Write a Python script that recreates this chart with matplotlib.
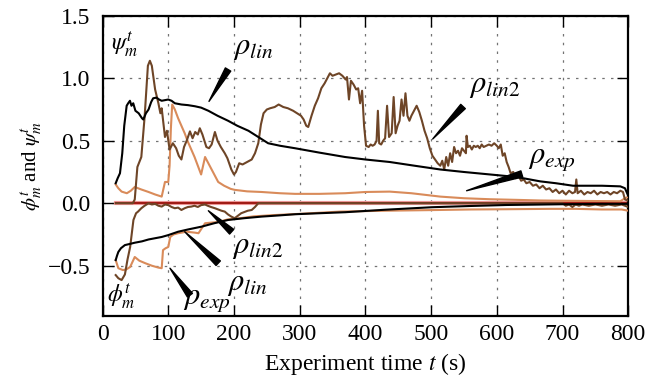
import numpy as np
import matplotlib.pyplot as plt

plt.rcParams['font.family'] = ['Liberation Serif', 'DejaVu Serif']
plt.rcParams['mathtext.fontset'] = 'stix'

# rho_lin (black)
lin_psi_t = [20, 23, 26.5, 30, 33, 36.7, 39, 41.7, 44, 46.7, 50, 55, 60, 62, 66, 70, 74, 77, 82, 86, 90, 95,
             100, 105, 110, 120, 130, 140.6, 150, 161, 175, 191, 205, 222, 237, 252, 270, 293, 330, 369, 400,
             437, 475, 514, 550, 590, 630, 666, 690, 716, 760, 788, 795, 800]
lin_psi = [0.16, 0.2, 0.24, 0.40, 0.62, 0.78, 0.80, 0.82, 0.78, 0.80, 0.74, 0.72, 0.68, 0.67, 0.72, 0.75, 0.81,
           0.84, 0.845, 0.83, 0.82, 0.825, 0.83, 0.82, 0.80, 0.79, 0.785, 0.776, 0.765, 0.74, 0.70, 0.66, 0.62,
           0.58, 0.53, 0.48, 0.46, 0.44, 0.405, 0.37, 0.35, 0.33, 0.30, 0.27, 0.25, 0.23, 0.21, 0.175, 0.16,
           0.14, 0.14, 0.135, 0.12, 0.06]
lin_phi_t = [20, 22, 24, 28, 34, 42, 49, 60, 70, 80, 90, 100, 115, 130, 151, 170, 191, 215, 242, 270, 293,
             330, 369, 430, 501, 560, 615, 700, 760, 800]
lin_phi = [-0.455, -0.42, -0.39, -0.36, -0.335, -0.325, -0.316, -0.305, -0.29, -0.28, -0.27, -0.255, -0.228,
           -0.21, -0.187, -0.16, -0.134, -0.12, -0.107, -0.097, -0.088, -0.08, -0.072, -0.052, -0.032, -0.022,
           -0.014, -0.008, -0.005, -0.005]

# rho_lin2 (dark brown)
lin2_psi_t = [20, 46, 49, 53, 59, 64, 69, 72, 75, 80, 85, 88, 90, 95, 98, 102, 107, 112, 116, 120, 124, 128,
              133, 137, 141, 145, 148, 152, 158, 162, 166, 171, 175, 180, 186, 190, 196, 200, 203, 208, 213,
              220, 227, 232, 237, 241, 245, 250, 255, 262, 268, 275, 282, 290, 296, 302, 306, 310, 313, 318,
              323, 328, 333, 338, 342, 346, 350, 355, 360, 365, 370, 372, 375, 378, 382, 386, 389, 392, 395,
              398, 401, 405, 408, 411, 414, 417, 419, 421, 424, 427, 430, 433, 436, 440, 443, 446, 449, 452,
              455, 458, 461, 464, 467, 470, 474, 478, 482, 486, 490, 494, 498, 502, 506, 510, 514, 517, 520,
              523, 526, 529, 532, 535, 538, 541, 544, 547, 550, 553, 554, 556, 559, 562, 565, 568, 571, 574,
              577, 580, 584, 588, 592, 596, 600, 603, 606, 609, 612, 615, 618, 621, 625, 629, 633, 637, 641,
              645, 650, 655, 660, 665, 670, 675, 680, 685, 690, 695, 700, 705, 710, 715, 719, 721, 723, 728,
              733, 738, 743, 748, 753, 758, 763, 768, 773, 778, 783, 788, 792, 795, 800]
lin2_psi = [0.0, 0.0, 0.03, 0.29, 0.37, 0.69, 1.10, 1.14, 1.10, 0.91, 0.80, 0.72, 0.76, 0.53, 0.58, 0.43,
            0.48, 0.44, 0.38, 0.35, 0.45, 0.50, 0.575, 0.52, 0.57, 0.55, 0.60, 0.55, 0.45, 0.44, 0.47, 0.57,
            0.50, 0.45, 0.40, 0.36, 0.27, 0.23, 0.25, 0.32, 0.31, 0.33, 0.35, 0.40, 0.48, 0.63, 0.72, 0.75,
            0.76, 0.77, 0.79, 0.77, 0.76, 0.74, 0.72, 0.70, 0.67, 0.62, 0.61, 0.70, 0.78, 0.84, 0.92, 0.96,
            1.00, 1.04, 1.02, 1.03, 1.04, 1.02, 0.99, 1.01, 0.83, 0.98, 0.95, 0.91, 0.92, 0.80, 0.90, 0.62,
            0.46, 0.45, 0.47, 0.46, 0.47, 0.50, 0.74, 0.48, 0.47, 0.50, 0.52, 0.78, 0.53, 0.56, 0.85, 0.56,
            0.62, 0.66, 0.83, 0.70, 0.88, 0.70, 0.66, 0.70, 0.74, 0.78, 0.73, 0.66, 0.58, 0.52, 0.44, 0.38,
            0.35, 0.32, 0.30, 0.34, 0.27, 0.37, 0.30, 0.40, 0.33, 0.45, 0.40, 0.42, 0.38, 0.44, 0.42, 0.40,
            0.54, 0.45, 0.46, 0.43, 0.46, 0.45, 0.46, 0.44, 0.47, 0.45, 0.46, 0.47, 0.46, 0.48, 0.46, 0.44,
            0.47, 0.38, 0.40, 0.33, 0.29, 0.24, 0.25, 0.20, 0.22, 0.18, 0.19, 0.16, 0.17, 0.14, 0.15, 0.12,
            0.14, 0.11, 0.12, 0.09, 0.11, 0.08, 0.10, 0.07, 0.10, 0.08, 0.09, 0.19, 0.08, 0.10, 0.07, 0.09,
            0.08, 0.10, 0.07, 0.09, 0.08, 0.09, 0.07, 0.09, 0.08, 0.10, 0.09, 0.03, 0.02]
lin2_phi_t = [20, 24, 29, 34, 38, 42, 45, 47, 51, 54, 59, 64, 70, 75, 80, 85, 90, 95, 100, 105, 110, 115,
              120, 125, 130, 135, 140, 145, 150, 156, 160, 165, 171, 176, 181, 186, 191, 196, 201, 206, 211,
              216, 221, 227, 232, 237, 700, 705, 710, 715, 720, 725, 730, 740, 750, 760, 770, 780, 790, 800]
lin2_phi = [-0.575, -0.60, -0.615, -0.57, -0.45, -0.35, -0.22, -0.134, -0.08, -0.067, -0.04, -0.02, 0.0,
            -0.01, -0.005, -0.02, -0.027, -0.01, -0.015, -0.03, -0.04, -0.035, -0.054, -0.04, -0.03, -0.027,
            -0.02, -0.03, -0.015, -0.01, -0.02, -0.03, -0.04, -0.05, -0.06, -0.067, -0.09, -0.107, -0.12,
            -0.10, -0.08, -0.07, -0.06, -0.054, -0.03, 0.0, 0.0, -0.02, -0.01, -0.03, -0.01, -0.02, -0.01,
            -0.02, -0.01, -0.02, -0.01, -0.02, -0.01, -0.03]

# rho_exp (light orange)
exp_psi_t = [20, 24, 29, 37, 43, 49, 54, 59, 70, 80, 90, 92, 95, 100, 102, 104, 106, 110, 115, 120, 125,
             130, 135, 140, 145, 150, 153, 156, 160, 166, 171, 176, 185, 195, 201, 220, 242, 270, 293, 330,
             369, 400, 437, 470, 514, 550, 590, 630, 666, 700, 740, 788, 795, 800]
exp_psi = [0.15, 0.12, 0.093, 0.08, 0.10, 0.13, 0.12, 0.11, 0.09, 0.07, 0.053, 0.10, 0.17, 0.17, 0.30, 0.60,
           0.79, 0.75, 0.68, 0.62, 0.56, 0.49, 0.43, 0.37, 0.30, 0.23, 0.30, 0.37, 0.33, 0.27, 0.22, 0.17,
           0.14, 0.115, 0.107, 0.095, 0.09, 0.08, 0.075, 0.075, 0.08, 0.09, 0.093, 0.08, 0.053, 0.04, 0.032,
           0.027, 0.022, 0.02, 0.018, 0.016, 0.04, 0.05]
exp_phi_t = [20, 24, 31, 36, 42, 49, 56, 65, 75, 85, 90, 92, 96, 100, 103, 108, 115, 128, 140, 146, 151,
             156, 166, 176, 190, 209, 230, 260, 300, 361, 430, 500, 560, 615, 680, 720, 760, 790, 800]
exp_phi = [-0.455, -0.52, -0.535, -0.53, -0.51, -0.43, -0.46, -0.48, -0.50, -0.515, -0.52, -0.375, -0.36,
           -0.35, -0.27, -0.25, -0.24, -0.228, -0.235, -0.24, -0.20, -0.16, -0.155, -0.15, -0.13, -0.12,
           -0.105, -0.095, -0.085, -0.067, -0.06, -0.055, -0.05, -0.048, -0.045, -0.045, -0.05, -0.05, -0.06]

# zero reference (red)
zero_t = [20, 800]
zero_psi = [0.0, 0.0]
zero_phi = [0.0, 0.0]

c_lin = 'black'
c_lin2 = '#6e4527'
c_exp = '#d98b5a'

fig = plt.figure(figsize=(6.45, 3.85), dpi=100)
ax = fig.add_axes([0.159, 0.18, 0.815, 0.779])

ax.plot(zero_t, zero_phi, color='#f6a5a5', lw=3, zorder=2)
ax.plot(zero_t, zero_psi, color='#a01c16', lw=1.6, zorder=2)
ax.plot(exp_psi_t, exp_psi, color=c_exp, lw=1.5, zorder=3)
ax.plot(exp_phi_t, exp_phi, color=c_exp, lw=1.5, zorder=3)
ax.plot(lin2_psi_t, lin2_psi, color=c_lin2, lw=1.5, zorder=4)
ax.plot(lin2_phi_t, lin2_phi, color=c_lin2, lw=1.5, zorder=4)
ax.plot(lin_psi_t, lin_psi, color=c_lin, lw=1.5, zorder=5)
ax.plot(lin_phi_t, lin_phi, color=c_lin, lw=1.5, zorder=5)

ax.set_xlim(0, 800)
ax.set_ylim(-0.9, 1.5)
ax.set_xticks(np.arange(0, 801, 100))
ax.set_yticks([-0.5, 0.0, 0.5, 1.0, 1.5])
ax.grid(True, color='0.45', linestyle=(0, (2, 5)), lw=0.9)
ax.tick_params(direction='in', top=True, right=True, length=8, width=1, labelsize=17)
ax.tick_params(axis='x', pad=6)
ax.tick_params(axis='y', pad=9)
for s in ax.spines.values():
    s.set_linewidth(1.6)

ax.set_xlabel('Experiment time $t$ (s)', fontsize=17, labelpad=4)
ax.set_ylabel(r'$\phi^t_m$ and $\psi^t_m$', fontsize=15, labelpad=2)

ax.text(33, 1.27, r'$\psi^t_m$', fontsize=17, ha='center', va='center')
ax.text(28, -0.745, r'$\phi^t_m$', fontsize=17, ha='center', va='center')

# label text, text position, wedge base, wedge tip
notes = [
    (r'$\rho_{lin}$', (229, 1.25), (191, 1.07), (162, 0.815)),
    (r'$\rho_{lin2}$', (597, 0.945), (548.6, 0.774), (502.4, 0.514)),
    (r'$\rho_{exp}$', (684, 0.36), (638, 0.235), (554, 0.10)),
    (r'$\rho_{lin2}$', (236.5, -0.345), (196.5, -0.228), (161, -0.06)),
    (r'$\rho_{lin}$', (220, -0.64), (176, -0.48), (125, -0.228)),
    (r'$\rho_{exp}$', (159, -0.77), (133, -0.736), (102.6, -0.52)),
]
for label, txt, base, tip in notes:
    ax.text(txt[0], txt[1], label, fontsize=22, ha='center', va='center', zorder=7)
    ax.annotate('', xy=tip, xytext=base,
                arrowprops=dict(arrowstyle='wedge,tail_width=0.45', color='black',
                                shrinkA=0, shrinkB=0), zorder=7)

fig.savefig('out.png', dpi=100)
